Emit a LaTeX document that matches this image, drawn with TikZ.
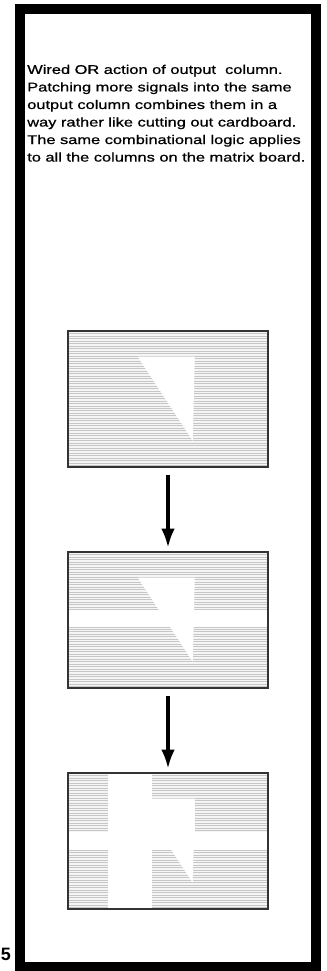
\documentclass[tikz,border=0pt]{standalone}
\usepackage{fontspec}
\setmainfont{Liberation Sans}
\newfontfamily\capfont[FakeStretch=1.3,FakeBold=0.8]{Liberation Sans}
\usetikzlibrary{arrows.meta}
\begin{document}
\begin{tikzpicture}[
  x=0.02646cm, y=-0.02646cm,
  panel/.style={minimum width=5.29cm, minimum height=3.6cm, inner sep=0pt, fill=gray!8,
    path picture={
      \foreach \k in {1,...,54}
        \draw[gray!45, line width=0.45pt]
          ([yshift=-\k*0.066cm]path picture bounding box.north west) --
          ([yshift=-\k*0.066cm]path picture bounding box.north east);
    }},
  edge/.style={draw=black!80, line width=1.4pt},
  cut/.style={fill=white},
  flow/.style={line width=2.4pt, -{Latex[length=0.5cm,width=0.36cm]},
    shorten <=0.21cm, shorten >=0.11cm}
]
\useasboundingbox (0,0) rectangle (327,971);

% ---- outer frame ----
\draw[line width=0.29cm] (20,9) rectangle (316,967);

% ---- caption ----
\node[anchor=north west, inner sep=0pt, align=left,
      font=\capfont\fontsize{9.5}{13.2}\selectfont] (caption) at (27,64.5)
  {Wired OR action of output~ column.\\
   Patching more signals into the same\\
   output column combines them in a\\
   way rather like cutting out cardboard.\\
   The same combinational logic applies\\
   to all the columns on the matrix board.};

% ---- panel 1: one signal ----
\node[panel] (pan1) at (168,399) {};
\fill[cut] ([shift={(70,26)}]pan1.north west) -- ++(57,0) -- ++(-2,84) -- cycle;
\draw[edge] (pan1.south west) rectangle (pan1.north east);

% ---- panel 2: two signals ----
\node[panel] (pan2) at (168,620) {};
\fill[cut] ([shift={(70,26)}]pan2.north west) -- ++(57,0) -- ++(-2,84) -- cycle;
\fill[cut] ([yshift=-58*0.02646cm]pan2.north west) rectangle ([yshift=-75*0.02646cm]pan2.north east);
\draw[edge] (pan2.south west) rectangle (pan2.north east);

% ---- panel 3: three signals ----
\node[panel] (pan3) at (168,841) {};
\fill[cut] ([shift={(70,26)}]pan3.north west) -- ++(57,0) -- ++(-2,84) -- cycle;
\fill[cut] ([shift={(84,27)}]pan3.north west) rectangle ([shift={(127,60)}]pan3.north west);
\fill[cut] ([yshift=-59*0.02646cm]pan3.north west) rectangle ([yshift=-77*0.02646cm]pan3.north east);
\fill[cut] ([xshift=40*0.02646cm]pan3.north west) rectangle ([xshift=84*0.02646cm]pan3.south west);
\draw[edge] (pan3.south west) rectangle (pan3.north east);

% ---- arrows ----
\draw[flow] (pan1.south) -- (pan2.north);
\draw[flow] (pan2.south) -- (pan3.north);

% ---- page number ----
\node[anchor=east, inner sep=0pt, font=\bfseries\fontsize{13.5}{14}\selectfont] (pagenum) at (11,954) {5};
\end{tikzpicture}
\end{document}
